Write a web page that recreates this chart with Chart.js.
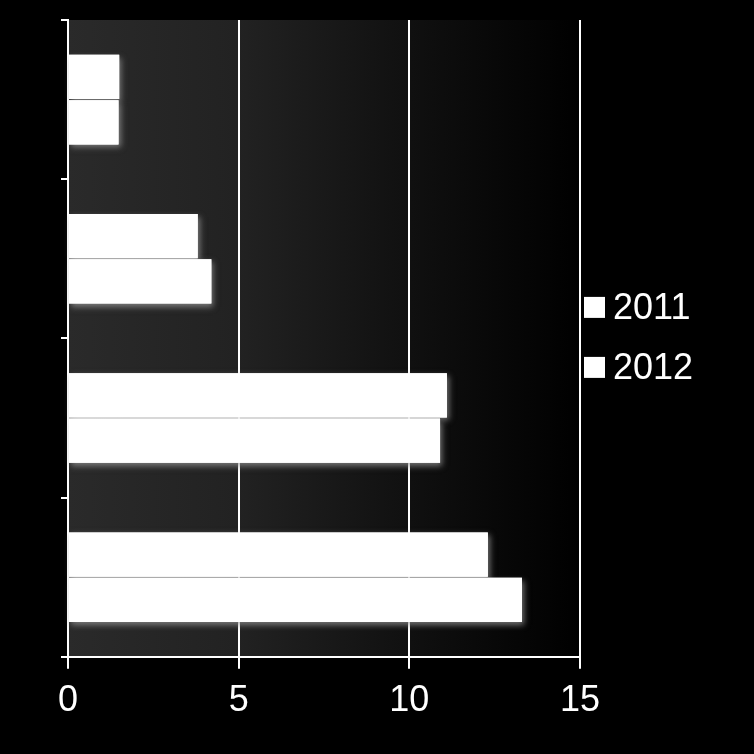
<!DOCTYPE html>
<html>
<head>
<meta charset="utf-8">
<script src="https://cdn.jsdelivr.net/npm/chart.js@4.4.1/dist/chart.umd.min.js"></script>
<style>
  html, body { margin: 0; padding: 0; background: #000; }
  #wrap { width: 754px; height: 754px; position: relative; }
</style>
</head>
<body>
<div id="wrap"><canvas id="c"></canvas></div>
<script>
// Categories (top to bottom; their names are not shown in the chart)
const categories = ['Cat 1', 'Cat 2', 'Cat 3', 'Cat 4'];
// Series values
const series2011 = [1.5, 3.8, 11.1, 12.3];
const series2012 = [1.48, 4.2, 10.9, 13.3];
const seriesNames = ['2011', '2012'];
// Value axis ticks
const xTicks = [0, 5, 10, 15];

const FONT = "'Liberation Sans', Arial, sans-serif";

// Plot-area gradient background
const plotBg = {
  id: 'plotBg',
  beforeDraw(chart) {
    const {ctx, chartArea: a} = chart;
    const g = ctx.createLinearGradient(a.left, 0, a.right, 0);
    g.addColorStop(0, '#2a2a2a');
    g.addColorStop(0.33, '#222222');
    g.addColorStop(0.67, '#101010');
    g.addColorStop(1, '#000000');
    ctx.save();
    ctx.fillStyle = g;
    ctx.fillRect(a.left, a.top, a.right - a.left, a.bottom - a.top);
    ctx.restore();
  }
};

// Soft shadows under the bars: draw a shadowed pass first, bars are drawn over it
const barShadow = {
  id: 'barShadow',
  beforeDatasetsDraw(chart) {
    const ctx = chart.ctx;
    chart.getSortedVisibleDatasetMetas().forEach(meta => {
      meta.data.forEach(el => {
        ctx.save();
        ctx.shadowColor = 'rgba(150,150,150,0.75)';
        ctx.shadowBlur = 6;
        ctx.shadowOffsetX = 2;
        ctx.shadowOffsetY = 3;
        el.draw(ctx, chart.chartArea);
        ctx.restore();
      });
    });
  }
};

// Legend drawn at the right of the plot area
const sideLegend = {
  id: 'sideLegend',
  afterDraw(chart) {
    const {ctx, chartArea: a} = chart;
    const ds = chart.data.datasets;
    const cy = (a.top + a.bottom) / 2;
    const step = 60, box = 21;
    ctx.save();
    ctx.font = '36px ' + FONT;
    ctx.textBaseline = 'middle';
    ctx.textAlign = 'left';
    ds.forEach((d, i) => {
      const y = cy + (i - (ds.length - 1) / 2) * step;
      const x = a.right + 4;
      ctx.fillStyle = d.backgroundColor;
      ctx.fillRect(x, y - box / 2 - 1, box, box);
      ctx.fillStyle = '#ffffff';
      ctx.fillText(d.label, x + box + 8, y + 1);
    });
    ctx.restore();
  }
};

new Chart(document.getElementById('c'), {
  type: 'bar',
  data: {
    labels: categories,
    datasets: [
      { label: seriesNames[0], data: series2011, backgroundColor: '#ffffff', borderWidth: 0 },
      { label: seriesNames[1], data: series2012, backgroundColor: '#ffffff', borderWidth: 0 }
    ]
  },
  options: {
    indexAxis: 'y',
    responsive: true,
    maintainAspectRatio: false,
    animation: false,
    devicePixelRatio: 1,
    categoryPercentage: 0.57,
    barPercentage: 0.975,
    layout: { padding: { left: 61, top: 20, right: 174, bottom: 20 } },
    plugins: {
      legend: { display: false },
      tooltip: { enabled: false },
      title: { display: false }
    },
    scales: {
      x: {
        type: 'linear',
        min: 0,
        max: 15,
        afterBuildTicks: (s) => { s.ticks = xTicks.map(v => ({ value: v })); },
        ticks: {
          color: '#ffffff',
          font: { family: FONT, size: 36 },
          padding: 11,
          maxRotation: 0
        },
        grid: {
          color: '#ffffff',
          lineWidth: 2,
          tickLength: 12,
          drawOnChartArea: true
        },
        border: { display: true, color: '#ffffff', width: 2 }
      },
      y: {
        type: 'category',
        ticks: { display: false },
        grid: {
          offset: true,
          color: '#ffffff',
          lineWidth: 2,
          tickLength: 7,
          drawOnChartArea: false
        },
        border: { display: true, color: '#ffffff', width: 2 }
      }
    }
  },
  plugins: [plotBg, barShadow, sideLegend]
});
</script>
</body>
</html>
